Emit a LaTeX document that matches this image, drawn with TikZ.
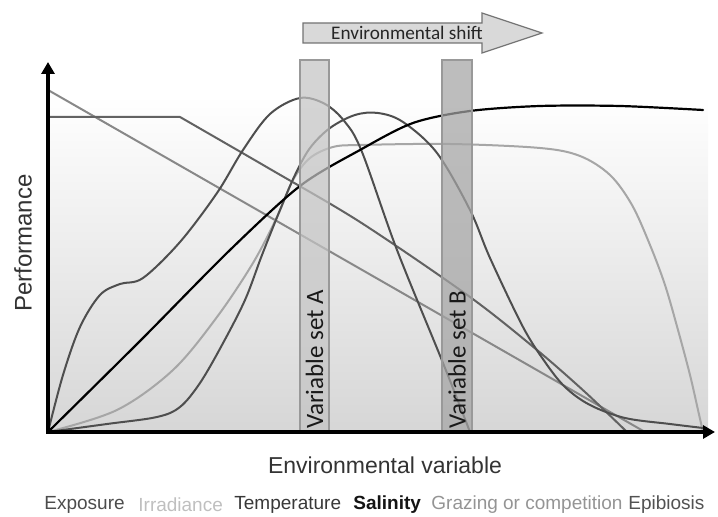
\documentclass[tikz,border=0pt]{standalone}
\usepackage{fontspec}
\setmainfont{Liberation Sans}
\newfontfamily\calibri{Carlito}
\usetikzlibrary{arrows.meta}

\definecolor{bellgray}{HTML}{4E4E4E}
\definecolor{exposuregray}{HTML}{626262}
\definecolor{grazinggray}{HTML}{888888}
\definecolor{lightgray}{HTML}{A6A6A6}
\definecolor{barAfill}{HTML}{C4C4C4}
\definecolor{barBfill}{HTML}{A4A4A4}

\begin{document}
\begin{tikzpicture}[x=0.5pt,y=-0.5pt,
    curve/.style={line width=1pt, line join=round, line cap=round},
    axis/.style={line width=1.6pt, -{Triangle[length=6pt,width=6.5pt]}},
    barbox/.style={draw=gray!80, line width=0.6pt, fill opacity=0.72},
    barlabel/.style={font=\calibri\fontsize{12.5}{14}\selectfont, text=black!90, rotate=90, anchor=west, inner sep=0pt},
    legend/.style={font=\fontsize{9.5}{11}\selectfont, anchor=west, inner sep=0pt}]
      \useasboundingbox (0,0) rectangle (718,517);

      % shaded background of the plot area
      \shade[top color=white, bottom color=gray!32] (48,95) rectangle (708,432);

      % Grazing or competition: straight decline
      \draw[curve, grazinggray] (48,90) -- (645,432);

      % Exposure: plateau, then decline
      \draw[curve, exposuregray] (48,117) -- (180,117)
        plot[smooth, tension=0.5] coordinates {(180,117) (270,169) (360,222) (470,297) (537,350) (585,392) (627,432)};

      % Irradiance: saturation, then photoinhibition
      \draw[curve, lightgray] plot[smooth, tension=0.55] coordinates {(48,432) (117,410) (173,370) (217,317) (253,263)
        (277,217) (293,180) (310,158) (333,147) (360,145) (450,144) (540,148) (580,156) (610,175) (632,205)
        (650,245) (665,285) (678,330) (690,375) (698,410) (703,432)};

      % Temperature: early optimum
      \draw[curve, bellgray] plot[smooth, tension=0.55] coordinates {(48,432) (63,375) (80,327) (100,295) (120,284)
        (143,278) (180,242) (217,193) (243,150) (270,114) (300,98) (325,104) (345,122) (362,152) (397,250)
        (443,363) (470,432)};

      % Epibiosis: late optimum
      \draw[curve, bellgray] plot[smooth, tension=0.55] coordinates {(48,432) (107,424) (157,417) (180,407) (200,383)
        (222,345) (245,300) (262,255) (280,210) (295,175) (310,148) (330,128) (355,115) (378,113) (403,122)
        (437,153) (470,210) (490,258) (523,327) (545,362) (565,387) (590,405) (625,418) (670,424) (703,428)};

      % Salinity: saturating response
      \draw[curve, black, line width=1.1pt] plot[smooth, tension=0.5] coordinates {(48,432) (140,341) (230,250)
        (300,186) (360,150) (413,123) (470,111) (540,106) (620,106) (703,110)};

      % the two variable sets
      \filldraw[barbox, fill=barAfill] (300,60) rectangle (329,432);
      \filldraw[barbox, fill=barBfill] (442,60) rectangle (472,432);
      \node[barlabel] (setA) at (314.5,429) {Variable set A};
      \node[barlabel] (setB) at (457,429) {Variable set B};

      % environmental shift arrow
      \filldraw[fill=gray!30, draw=gray!90!black, line width=0.6pt]
        (303,23) -- (482,23) -- (482,13) -- (542,33) -- (482,53) -- (482,43) -- (303,43) -- cycle;
      \node[font=\calibri\fontsize{9.6}{11}\selectfont, text=black!85, inner sep=0pt] (shift) at (407,33) {Environmental shift};

      % axes
      \draw[axis] (48,434) -- (48,62);
      \draw[axis] (46,432) -- (715,432);

      % axis labels
      \node[rotate=90, font=\fontsize{12}{14}\selectfont, text=black!80] (perf) at (23,243) {Performance};
      \node[font=\fontsize{11.5}{13}\selectfont, text=black!80] (envvar) at (385,465) {Environmental variable};

      % legend
      \node[legend, text=black!70] (exposure) at (44,505) {Exposure};
      \node[legend, text=black!25] (irradiance) at (138,505) {Irradiance};
      \node[legend, text=black!78] (temperature) at (234,505) {Temperature};
      \node[legend, text=black!92, font=\bfseries\fontsize{9.5}{11}\selectfont] (salinity) at (353,505) {Salinity};
      \node[legend, text=black!42] (grazing) at (431,505) {Grazing or competition};
      \node[legend, text=black!68] (epibiosis) at (628,505) {Epibiosis};
    \end{tikzpicture}
\end{document}
